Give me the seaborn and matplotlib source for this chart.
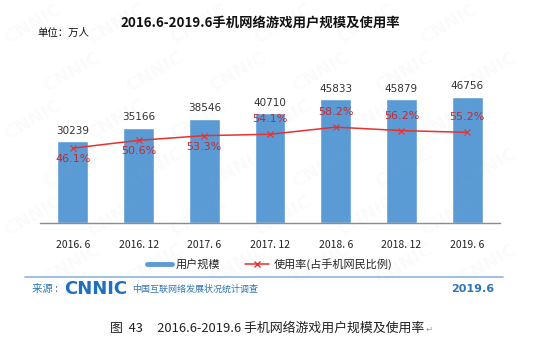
import matplotlib
matplotlib.use("Agg")
import matplotlib.pyplot as plt
from matplotlib.lines import Line2D
import seaborn as sns
import pandas as pd
import numpy as np

# Data
periods = ["2016. 6", "2016. 12", "2017. 6", "2017. 12", "2018. 6", "2018. 12", "2019. 6"]
users = [30239, 35166, 38546, 40710, 45833, 45879, 46756]          # 万人
usage_rate = [46.1, 50.6, 53.3, 54.1, 58.2, 56.2, 55.2]            # %
rate_label_below = [True, True, True, False, False, False, False]

title = "2016.6-2019.6手机网络游戏用户规模及使用率"
unit_text = "单位：万人"
legend_labels = ["用户规模", "使用率(占手机网民比例)"]
caption = "图  43     2016.6-2019.6 手机网络游戏用户规模及使用率"

sns.set_theme(style="white")
plt.rcParams["font.family"] = ["Noto Sans CJK SC", "DejaVu Sans"]

BLUE = "#5b9bd5"
RED = "#e8302f"
RED_TXT = "#c8282c"
FOOT = "#2e75b6"

df = pd.DataFrame({"period": periods, "users": users, "rate": usage_rate})

fig = plt.figure(figsize=(5.54, 3.43), dpi=100)
ax = fig.add_axes([0.0722, 0.3499, 0.8303, 0.4723])
ax.patch.set_visible(False)

sns.barplot(data=df, x="period", y="users", color=BLUE, width=0.47,
            saturation=1, ax=ax, zorder=2)
ax.set_ylim(0, 60000)
ax.set_xlim(-0.5, len(periods) - 0.5)
ax.bar_label(ax.containers[0], labels=[str(v) for v in users], padding=4,
             fontsize=7.5, color="#333333", family="DejaVu Sans")

ax.set_xlabel("")
ax.set_ylabel("")
ax.set_yticks([])
for s in ["left", "right", "top"]:
    ax.spines[s].set_visible(False)
ax.spines["bottom"].set_color("#8c8c8c")
ax.spines["bottom"].set_linewidth(1.0)
ax.tick_params(axis="x", which="major", length=0, pad=12, labelsize=7.5,
               colors="#222222")
ax.set_xticks(np.arange(-0.5, len(periods)), minor=True)
ax.tick_params(axis="x", which="minor", length=4, width=1.0, color="#8c8c8c",
               direction="out")

# Usage rate on a secondary axis
ax2 = ax.twinx()
sns.pointplot(data=df, x="period", y="rate", color=RED, markers="x",
              linestyles="-", linewidth=1.1, markersize=5, ax=ax2, zorder=3)
ax2.set_ylim(3, 96.3)
ax2.set_xlim(-0.5, len(periods) - 0.5)
ax2.set_yticks([])
ax2.set_ylabel("")
ax2.set_xlabel("")
for s in ax2.spines.values():
    s.set_visible(False)
for i, (r, below) in enumerate(zip(usage_rate, rate_label_below)):
    ax2.annotate(f"{r}%", (i, r), xytext=(0, -11 if below else 15),
                 textcoords="offset pixels",
                 ha="center", va="center", fontsize=8, color=RED_TXT,
                 family="DejaVu Sans")

# Titles
fig.text(0.47, 1 - 23 / 343, title, ha="center", va="center", fontsize=9.6,
         fontweight="bold", color="#111111")
fig.text(37 / 554, 1 - 33 / 343, unit_text, ha="left", va="center",
         fontsize=7.5, color="#111111")

# Legend
handles = [Line2D([], [], color=BLUE, lw=3.5),
           Line2D([], [], color=RED, lw=1.1, marker="x", markersize=5)]
fig.legend(handles, legend_labels, loc="center", ncol=2,
           bbox_to_anchor=(0.487, 1 - 264 / 343), frameon=False, fontsize=8,
           handlelength=2.2, handletextpad=0.4, columnspacing=2.2)

# Footer
fig.add_artist(Line2D([25 / 554, 503 / 554], [1 - 277 / 343] * 2,
                      color="#8db4e2", lw=1.2, transform=fig.transFigure))
fig.text(32 / 554, 1 - 289 / 343, "来源 :", ha="left", va="center",
         fontsize=7.5, color=FOOT)
fig.text(64 / 554, 1 - 289 / 343, "CNNIC", ha="left", va="center",
         fontsize=13, fontweight="heavy", color="#1f6fc0",
         family="DejaVu Sans")
fig.text(132 / 554, 1 - 289 / 343, "中国互联网络发展状况统计调查", ha="left",
         va="center", fontsize=6.5, color=FOOT)
fig.text(494 / 554, 1 - 289 / 343, "2019.6", ha="right", va="center",
         fontsize=8, fontweight="bold", color=FOOT, family="DejaVu Sans")

# Caption, with the paragraph mark right after it
cap = fig.text(110 / 554, 1 - 328 / 343, caption, ha="left", va="center",
               fontsize=9.3, color="#222222")
fig.canvas.draw()
bb = cap.get_window_extent()
fig.text(bb.x1 / fig.bbox.width + 0.002, 1 - 329 / 343, "↵", ha="left",
         va="center", fontsize=6, color="#999999", family=["DejaVu Sans"])

# Faint watermark
for row, yy in enumerate(np.arange(0.93, 0.12, -0.14)):
    offset = 0.07 if row % 2 else 0.0
    for xx in np.arange(0.06 + offset, 0.96, 0.15):
        fig.text(xx, yy, "CNNIC", rotation=30, fontsize=13, fontweight="bold",
                 color="#9aa0a8", alpha=0.045, ha="center", va="center",
                 family="DejaVu Sans", zorder=10)

fig.savefig("out.png", dpi=100)
